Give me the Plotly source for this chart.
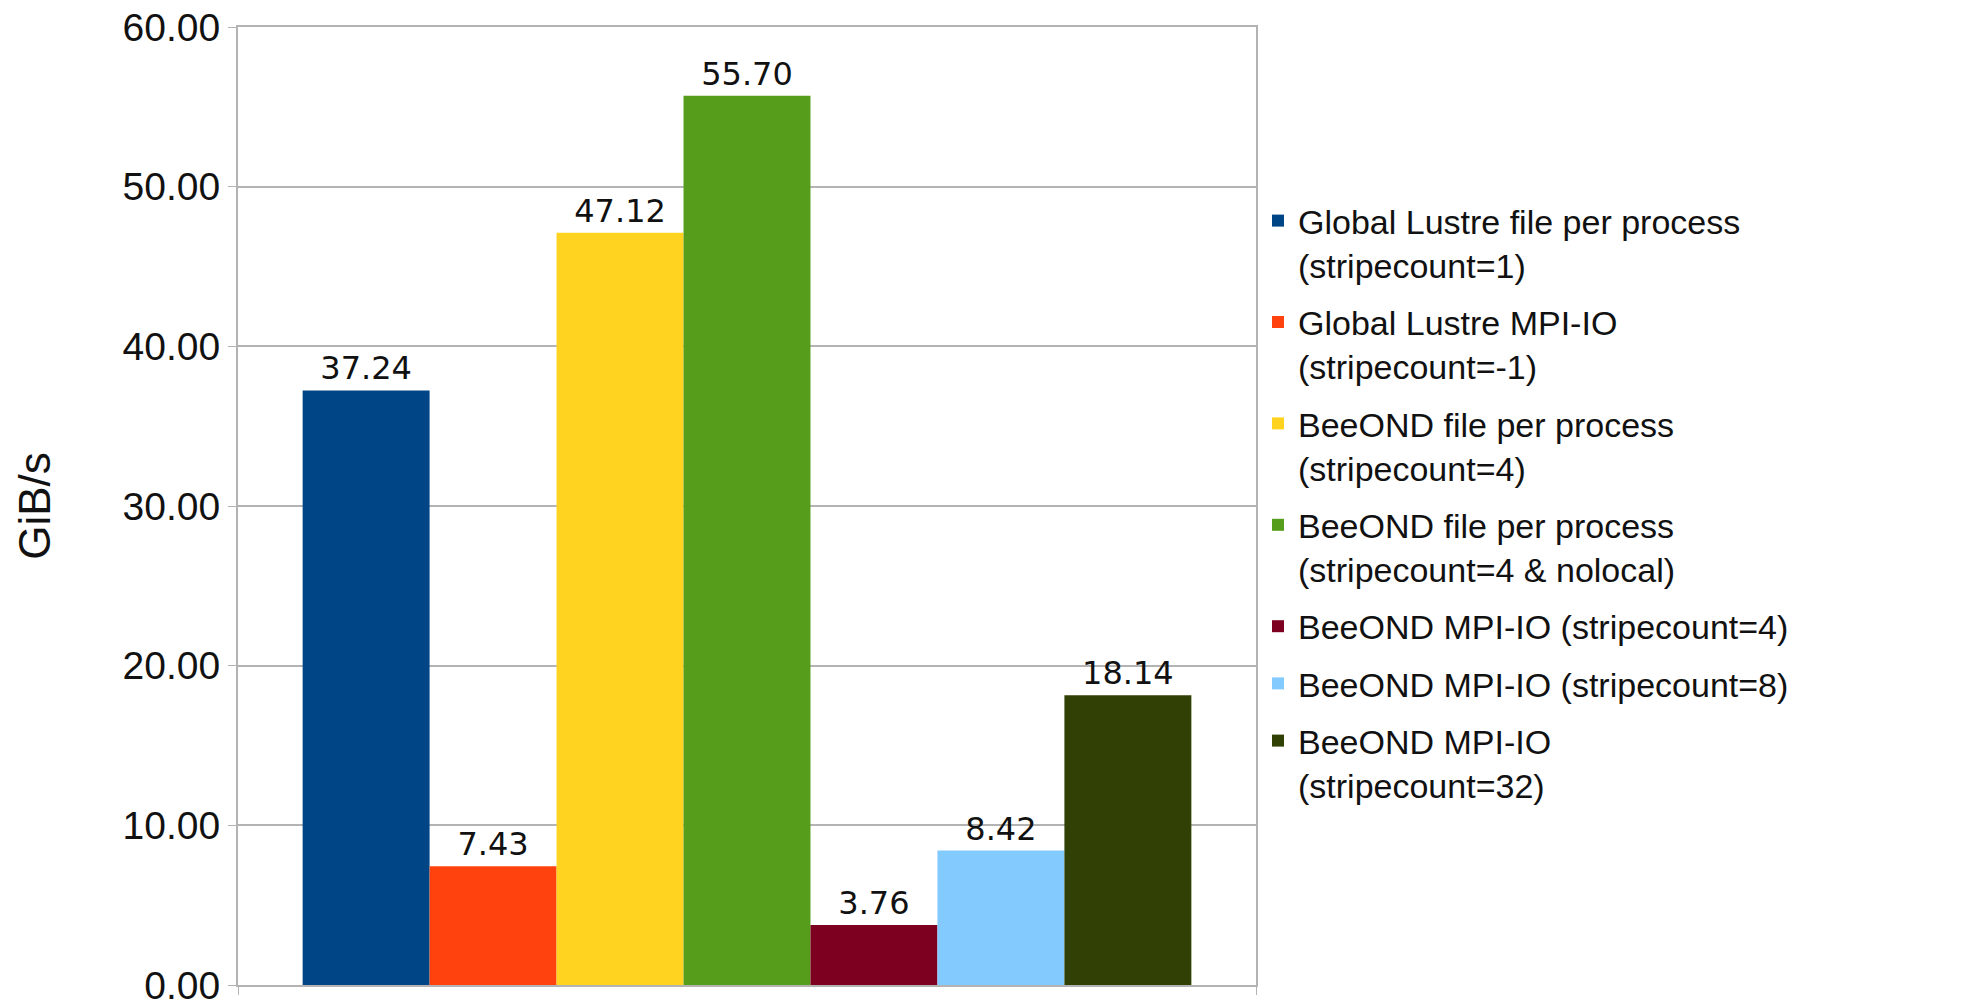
import plotly.graph_objects as go

series_names = [
    "Global Lustre file per process<br>(stripecount=1)",
    "Global Lustre MPI-IO<br>(stripecount=-1)",
    "BeeOND file per process<br>(stripecount=4)",
    "BeeOND file per process<br>(stripecount=4 & nolocal)",
    "BeeOND MPI-IO (stripecount=4)",
    "BeeOND MPI-IO (stripecount=8)",
    "BeeOND MPI-IO<br>(stripecount=32)",
]
values = [37.24, 7.43, 47.12, 55.70, 3.76, 8.42, 18.14]
colors = ["#004586", "#ff420e", "#ffd320", "#579d1c", "#7e0021", "#83caff", "#314004"]
category = [""]
y_ticks = [0, 10, 20, 30, 40, 50, 60]

W, H = 1965, 1001
L, R, T, B = 238, 1256, 27, 985

fig = go.Figure()
for i, (name, v, c) in enumerate(zip(series_names, values, colors)):
    fig.add_trace(go.Bar(
        x=category, y=[v], name=name, legendgroup=f"g{i}",
        marker=dict(color=c, line=dict(width=0)),
        text=[f"{v:.2f}"], textposition="outside",
        textfont=dict(family="DejaVu Sans", size=32, color="#111111"),
        cliponaxis=False,
    ))

grid = "#b3b3b3"
fig.update_layout(
    width=W, height=H,
    margin=dict(l=L, r=W - R, t=T, b=H - B, autoexpand=False),
    paper_bgcolor="white", plot_bgcolor="white",
    barmode="group", bargap=0.127, bargroupgap=0,
    showlegend=True,
    legend=dict(
        x=(1298 - 40 - L) / (R - L), y=(B - 192) / (B - T),
        xanchor="left", yanchor="top",
        font=dict(family="Liberation Sans, Arial", size=34, color="#111111"),
        valign="top", bgcolor="rgba(0,0,0,0)", borderwidth=0,
        traceorder="grouped", tracegroupgap=10,
    ),
    xaxis=dict(
        type="category", showticklabels=False,
        showline=True, linecolor=grid, linewidth=2, mirror=True,
        ticks="outside", ticklen=8, tickcolor=grid, tickson="boundaries",
        showgrid=False, zeroline=False,
    ),
    yaxis=dict(
        range=[0, 60], tickvals=y_ticks, tickformat=".2f",
        ticks="outside", ticklen=8, tickcolor=grid,
        showline=True, linecolor=grid, linewidth=2, mirror=True,
        showgrid=True, gridcolor=grid, gridwidth=1.5, zeroline=False,
        tickfont=dict(family="Liberation Sans, Arial", size=39, color="#111111"),
        ticklabeloverflow="allow",
        title=dict(text="GiB/s", font=dict(family="Liberation Sans, Arial", size=44, color="#111111"), standoff=58),
        automargin=False,
    ),
    font=dict(family="Liberation Sans, Arial"),
)

fig.write_html("out.html")
